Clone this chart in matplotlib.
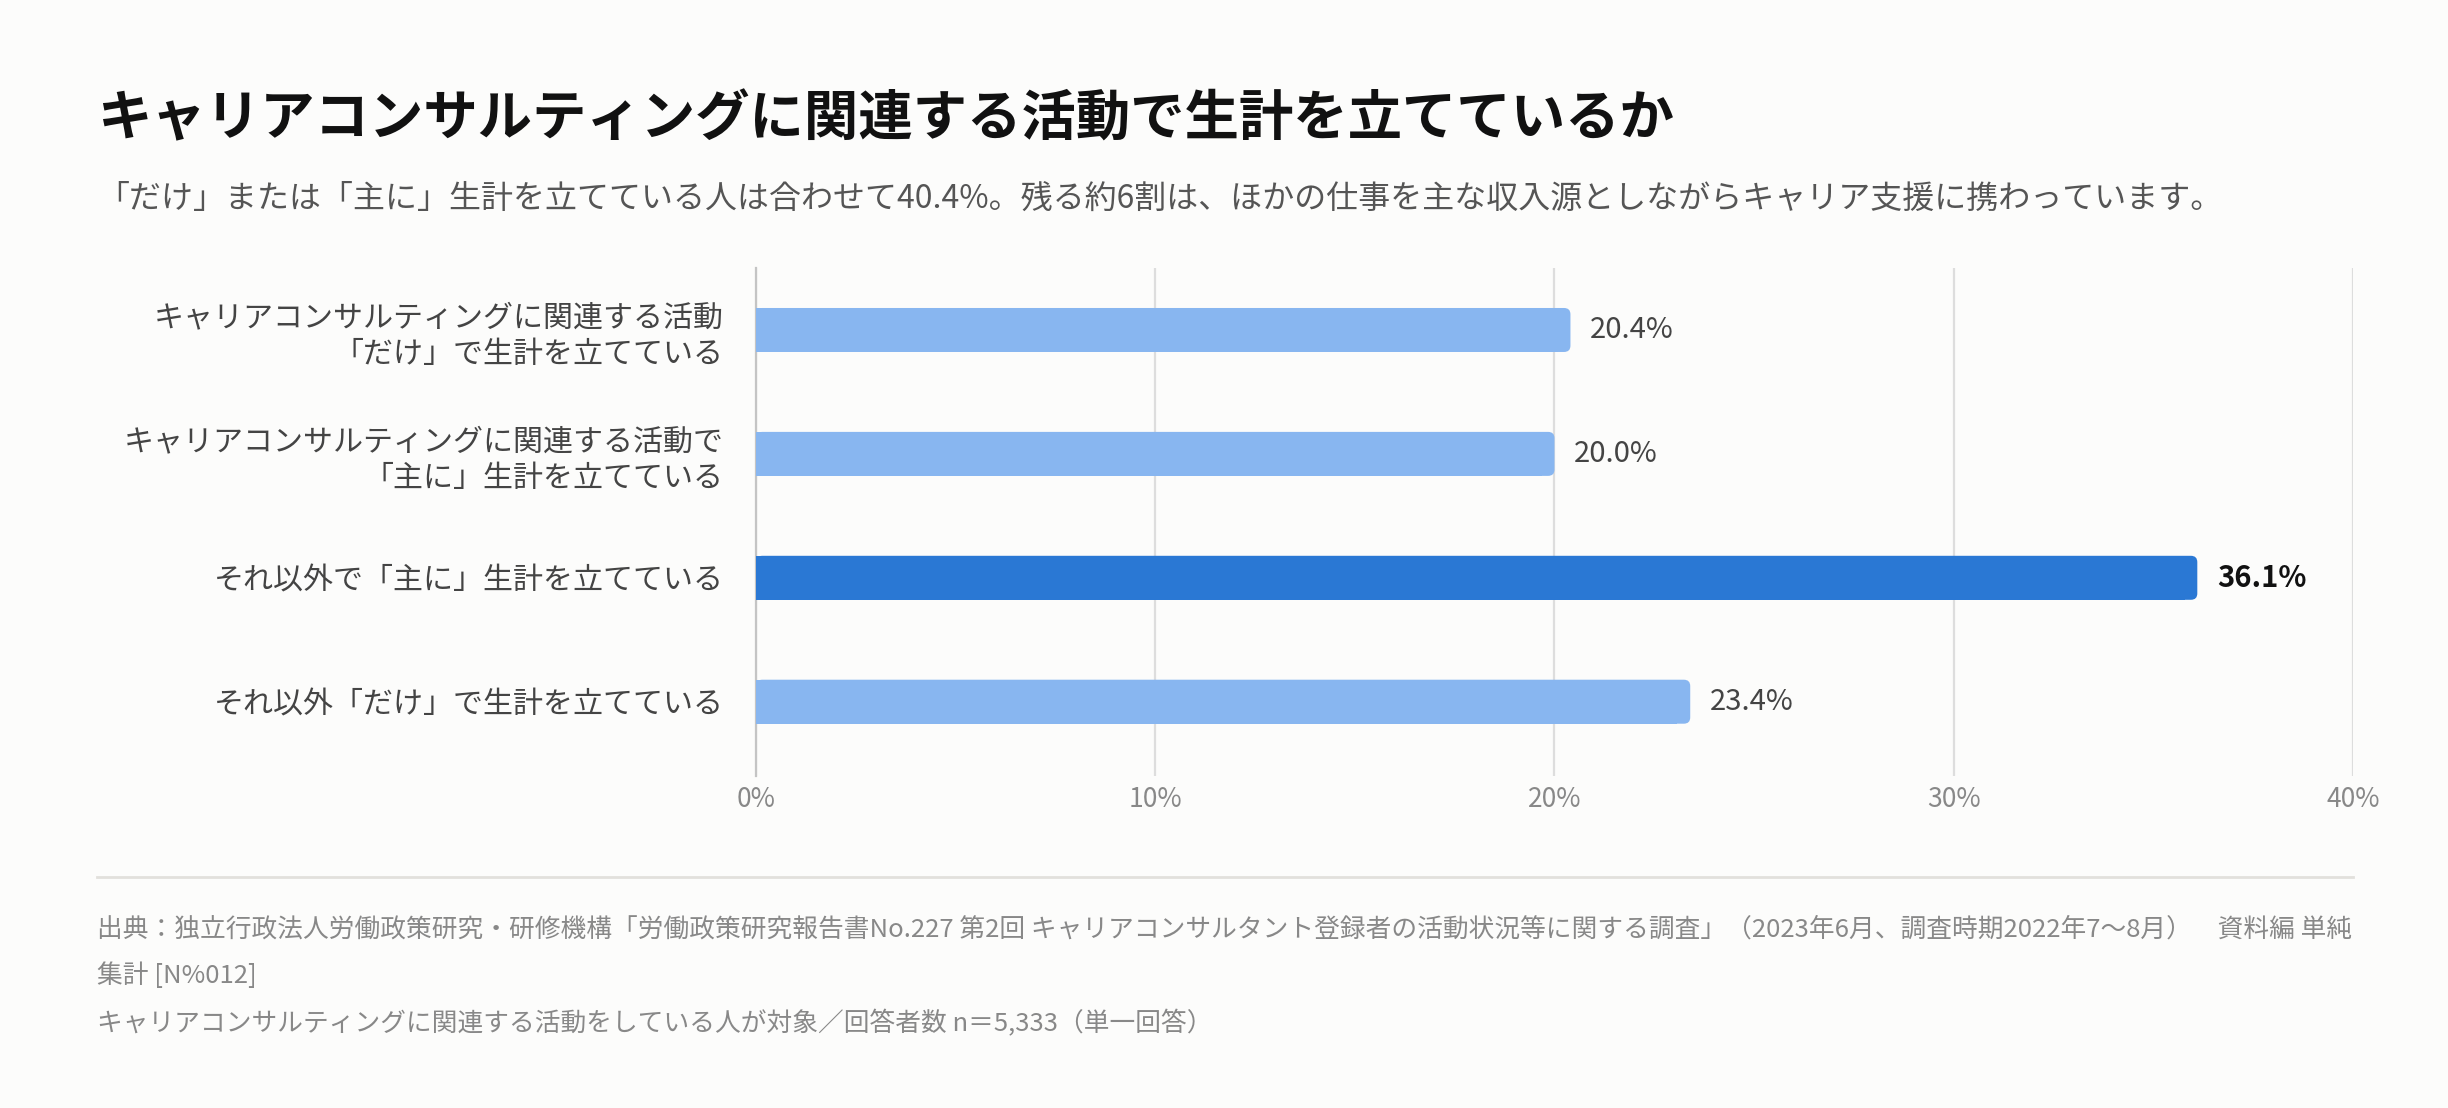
import matplotlib

matplotlib.use("Agg")
import matplotlib.pyplot as plt
from matplotlib.patches import FancyBboxPatch

plt.rcParams['font.family'] = ['Noto Sans CJK JP', 'DejaVu Sans']

# data
categories = [
    "キャリアコンサルティングに関連する活動\n「だけ」で生計を立てている",
    "キャリアコンサルティングに関連する活動で\n「主に」生計を立てている",
    "それ以外で「主に」生計を立てている",
    "それ以外「だけ」で生計を立てている",
]
values = [20.4, 20.0, 36.1, 23.4]
highlight = [False, False, True, False]
xticks = [0, 10, 20, 30, 40]
xtick_labels = ["0%", "10%", "20%", "30%", "40%"]

title = "キャリアコンサルティングに関連する活動で生計を立てているか"
subtitle = ("「だけ」または「主に」生計を立てている人は合わせて40.4%。"
            "残る約6割は、ほかの仕事を主な収入源としながらキャリア支援に携わっています。")
notes = [
    "出典：独立行政法人労働政策研究・研修機構「労働政策研究報告書No.227 第2回 キャリアコンサルタント登録者の活動状況等に関する調査」（2023年6月、調査時期2022年7〜8月）　資料編 単純",
    "集計 [N%012]",
    "キャリアコンサルティングに関連する活動をしている人が対象／回答者数 n＝5,333（単一回答）",
]

bg = "#fcfcfb"
light = "#88b6f0"
dark = "#2a78d4"

fig = plt.figure(figsize=(12.24, 5.54), dpi=200, facecolor=bg)
ax = fig.add_axes([0.3088, 0.2996, 0.6524, 0.4585], facecolor=bg)

ypos = list(range(len(categories)))
colors = [dark if h else light for h in highlight]
bars = ax.barh(ypos, values, height=0.355, color=colors, zorder=3)

ax.set_ylim(3.6, -0.5)
ax.set_xlim(0, 40)

# round the right end of each bar, keep the left end square
r = 0.16
for b in bars:
    x0, y0, w, h = b.get_x(), b.get_y(), b.get_width(), b.get_height()
    rb = FancyBboxPatch((x0, y0), w, h, boxstyle=f"round,pad=0,rounding_size={r}",
                        mutation_aspect=0.32, facecolor=b.get_facecolor(),
                        edgecolor="none", zorder=3)
    ax.add_patch(rb)
    b.set_width(w - 2 * r)

for y, v, h in zip(ypos, values, highlight):
    ax.annotate(f"{v:.1f}%", (v, y), xytext=(7, 0), textcoords="offset points",
                va="center", ha="left", fontsize=10.5,
                color="#111111" if h else "#444444",
                fontweight="bold" if h else "normal")

ax.set_yticks(ypos)
ax.set_yticklabels(categories, fontsize=10.8, color="#444444", linespacing=1.25)
ax.set_xticks(xticks)
ax.set_xticklabels(xtick_labels, fontsize=9.5, color="#888888")
ax.tick_params(axis="both", length=0)
ax.tick_params(axis="y", pad=11.5)
ax.tick_params(axis="x", pad=3.5)
for lbl in ax.get_yticklabels():
    lbl.set_horizontalalignment("right")

ax.grid(axis="x", color="#dddddd", linewidth=0.8, zorder=0)
for side in ["top", "right", "bottom"]:
    ax.spines[side].set_visible(False)
ax.spines["left"].set_color("#c4c4c4")
ax.spines["left"].set_linewidth(0.8)

fig.text(0.0396, 0.8915, title, fontsize=19.6, fontweight="bold", color="#111111", va="center")
fig.text(0.0396, 0.8205, subtitle, fontsize=11.5, color="#555555", va="center")

fig.add_artist(plt.Line2D([0.0396, 0.9612], [0.2085, 0.2085], color="#e2e0dc", linewidth=1.0))

for yy, line in zip([0.1610, 0.1195, 0.0760], notes):
    fig.text(0.0396, yy, line, fontsize=9.25, color="#888888", va="center")

fig.savefig("out.png", dpi=200, facecolor=bg)
